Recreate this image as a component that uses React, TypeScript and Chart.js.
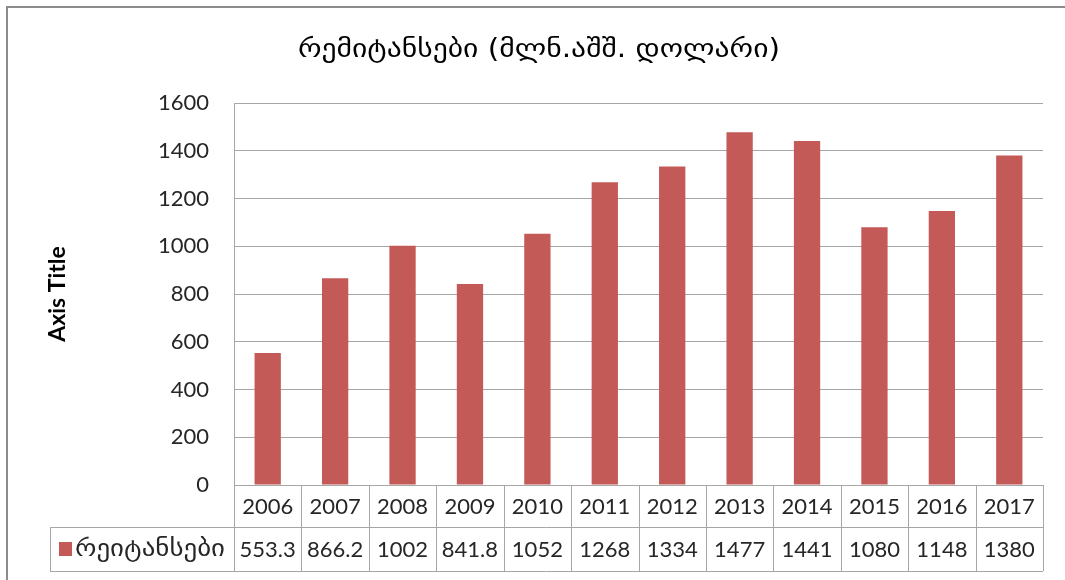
import { useEffect, useRef } from 'react';
import { Chart, registerables } from 'chart.js';

Chart.register(...registerables);

const categories = ['2006', '2007', '2008', '2009', '2010', '2011', '2012', '2013', '2014', '2015', '2016', '2017'];
const values = [553.3, 866.2, 1002, 841.8, 1052, 1268, 1334, 1477, 1441, 1080, 1148, 1380];
const valueLabels = ['553.3', '866.2', '1002', '841.8', '1052', '1268', '1334', '1477', '1441', '1080', '1148', '1380'];
const seriesName = 'რეიტანსები';
const chartTitle = 'რემიტანსები (მლნ.აშშ. დოლარი)';
const yAxisTitle = 'Axis Title';
const yMin = 0;
const yMax = 1600;
const yStep = 200;

const BAR_COLOR = '#C35A57';
const GRID = '#A6A6A6';
const TEXT = '#262626';
const NUM_FONT = '22px Lato';
const GEO_FONT = '"DejaVu Sans"';

const tablePlugin = {
  id: 'tablePlugin',
  beforeDraw(chart: any) {
    const ctx = chart.ctx;
    ctx.save();
    ctx.strokeStyle = '#8C8C8C';
    ctx.lineWidth = 2;
    ctx.beginPath();
    ctx.moveTo(7, 580);
    ctx.lineTo(7, 7);
    ctx.lineTo(1065, 7);
    ctx.stroke();
    ctx.restore();
  },
  afterDraw(chart: any) {
    const ctx = chart.ctx;
    const { left, right, bottom } = chart.chartArea;
    const x = chart.scales.x;
    const row1 = bottom + 42;
    const row2 = row1 + 44;
    const legendLeft = 50;
    const n = categories.length;
    const w = (right - left) / n;
    const px = (v: number) => Math.round(v) + 0.5;

    ctx.save();
    ctx.strokeStyle = GRID;
    ctx.lineWidth = 1;
    ctx.beginPath();
    ctx.moveTo(legendLeft, px(row1));
    ctx.lineTo(right, px(row1));
    ctx.moveTo(legendLeft, px(row2));
    ctx.lineTo(right, px(row2));
    ctx.moveTo(px(legendLeft), row1);
    ctx.lineTo(px(legendLeft), row2);
    for (let i = 0; i <= n; i++) {
      const xx = px(left + i * w);
      ctx.moveTo(xx, i === 0 ? chart.chartArea.top : bottom);
      ctx.lineTo(xx, row2);
    }
    ctx.stroke();

    ctx.fillStyle = TEXT;
    ctx.font = NUM_FONT;
    ctx.textAlign = 'center';
    ctx.textBaseline = 'middle';
    categories.forEach((c, i) => {
      const cx = x.getPixelForValue(i);
      ctx.fillText(c, cx, (bottom + row1) / 2 + 1);
      ctx.fillText(valueLabels[i], cx, (row1 + row2) / 2 + 1);
    });

    // legend key
    ctx.fillStyle = BAR_COLOR;
    ctx.fillRect(59, (row1 + row2) / 2 - 7, 13, 14);
    ctx.fillStyle = TEXT;
    ctx.textAlign = 'left';
    ctx.font = `23px ${GEO_FONT}`;
    ctx.save();
    ctx.translate(75, (row1 + row2) / 2 + 1);
    const lw = ctx.measureText(seriesName).width;
    ctx.scale(150 / lw, 1);
    ctx.fillText(seriesName, 0, 0);
    ctx.restore();

    // chart title
    ctx.save();
    ctx.textAlign = 'center';
    ctx.font = `26px ${GEO_FONT}`;
    ctx.fillStyle = '#000000';
    const tw = ctx.measureText(chartTitle).width;
    ctx.translate(539, 50);
    ctx.scale(482 / tw, 1);
    ctx.fillText(chartTitle, 0, 0);
    ctx.restore();

    // y axis title
    ctx.translate(58, 294);
    ctx.rotate(-Math.PI / 2);
    ctx.textAlign = 'center';
    ctx.font = 'bold 23px Lato';
    ctx.fillStyle = '#000000';
    ctx.fillText(yAxisTitle, 0, 0);
    ctx.restore();
  },
};

export default function App() {
  const ref = useRef<HTMLCanvasElement | null>(null);
  useEffect(() => {
    if (!ref.current) return;
    const chart = new Chart(ref.current, {
      type: 'bar',
      data: {
        labels: categories,
        datasets: [
          {
            label: seriesName,
            data: values,
            backgroundColor: BAR_COLOR,
            borderWidth: 0,
            barPercentage: 0.39,
            categoryPercentage: 1,
          },
        ],
      },
      options: {
        animation: false,
        responsive: false,
        devicePixelRatio: 1,
        layout: { padding: { left: 0, top: 103, right: 22, bottom: 95 } },
        plugins: {
          legend: { display: false },
          title: { display: false },
          tooltip: { enabled: false },
        },
        scales: {
          x: {
            ticks: { display: false },
            grid: { display: false, drawTicks: false },
            border: { display: false },
          },
          y: {
            min: yMin,
            max: yMax,
            ticks: {
              stepSize: yStep,
              padding: 25,
              color: TEXT,
              font: { family: 'Lato', size: 22 },
              callback: (v: any) => String(v),
            },
            grid: { color: GRID, drawTicks: false },
            border: { display: true, color: GRID },
            afterFit(scale: any) {
              scale.width = 234;
            },
          },
        },
      },
      plugins: [tablePlugin],
    });
    return () => chart.destroy();
  }, []);
  return (
    <div style={{ position: 'fixed', left: 0, top: 0, width: 1065, height: 580, background: '#fff' }}>
      <canvas ref={ref} width={1065} height={580} />
    </div>
  );
}
